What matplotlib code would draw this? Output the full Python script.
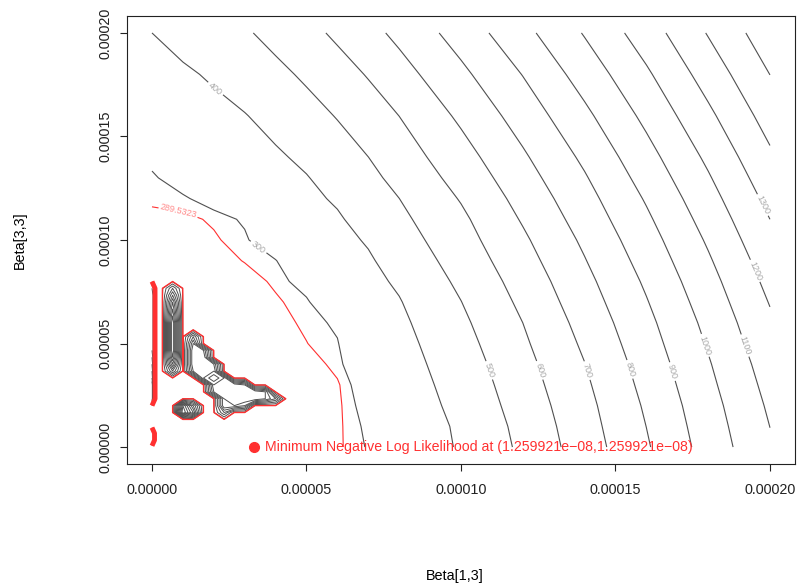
import matplotlib
matplotlib.use("Agg")
import matplotlib.pyplot as plt
import numpy as np
from matplotlib.ticker import FormatStrFormatter

plt.rcParams['font.family'] = ['Liberation Sans', 'DejaVu Sans']

# negative log likelihood surface (beta in 1e-6)
beta13 = [0, 10, 20, 30, 40, 50, 60, 70, 80, 100, 120, 140, 160, 180, 200]
beta33 = [0, 10, 20, 30, 40, 50, 60, 70, 80, 90, 100, 110, 120, 130, 140, 160, 180, 200]
nll = [
    [280, 280, 280, 280, 280, 280, 286.7, 301.7, 336.5, 408.9, 518.4, 650.0, 789.6, 940.0, 1089.0],
    [280, 280, 280, 280, 280, 280, 286.4, 304.2, 339.0, 413.5, 527.6, 660.0, 800.7, 951.0, 1100.8],
    [280, 280, 280, 280, 280, 280, 286.1, 309.6, 345.2, 425.0, 540.8, 670.5, 812.6, 962.6, 1114.5],
    [280, 280, 280, 280, 280, 280, 287.2, 316.1, 352.0, 436.3, 554.5, 683.9, 827.2, 977.1, 1130.0],
    [280, 280, 280, 280, 280, 280.3, 294.9, 323.6, 360.0, 449.5, 568.4, 698.0, 841.6, 991.6, 1146.0],
    [280, 280, 280, 280, 280, 289.1, 298.6, 331.8, 369.3, 464.5, 584.4, 715.6, 858.3, 1008.4, 1165.0],
    [280, 280, 280, 280, 284.0, 292.4, 303.8, 342.3, 380.8, 480.6, 600.0, 733.6, 875.0, 1025.4, 1183.7],
    [280, 280, 280, 280, 287.0, 297.0, 324.6, 359.6, 394.7, 498.4, 619.6, 753.5, 894.3, 1045.4, 1204.9],
    [280, 280, 280, 282.0, 292.5, 309.5, 342.4, 375.3, 413.0, 518.6, 639.2, 773.3, 914.2, 1065.9, 1226.7],
    [280, 280, 282.0, 290.4, 298.9, 327.3, 358.6, 390.0, 434.3, 540.0, 661.7, 795.3, 936.6, 1088.5, 1250.0],
    [281.0, 280, 287.3, 296.9, 319.1, 347.6, 376.1, 407.8, 456.3, 561.1, 683.9, 817.2, 959.3, 1112.0, 1275.0],
    [286.4, 285.5, 291.8, 302.9, 332.2, 361.4, 390.6, 431.6, 478.1, 580.9, 708.6, 841.5, 983.8, 1137.3, 1300.0],
    [291.6, 296.9, 310.2, 334.0, 357.7, 381.5, 409.9, 454.7, 499.6, 606.3, 733.1, 865.5, 1009.2, 1163.3, 1327.5],
    [296.9, 311.9, 332.9, 353.9, 374.8, 395.8, 434.5, 477.6, 524.9, 634.0, 759.6, 891.3, 1037.1, 1190.7, 1355.4],
    [306.3, 326.8, 347.3, 367.8, 387.5, 417.6, 458.6, 499.6, 550.0, 661.2, 786.1, 918.7, 1064.9, 1218.9, 1383.5],
    [337.5, 357.0, 376.6, 396.1, 429.6, 466.7, 504.8, 552.6, 600.6, 717.8, 842.6, 978.2, 1123.9, 1279.0, 1441.9],
    [368.8, 387.4, 410.7, 444.0, 477.3, 514.5, 560.0, 606.6, 661.9, 778.0, 902.8, 1041.8, 1184.9, 1342.4, 1500.8],
    [400.0, 429.8, 459.5, 489.3, 527.7, 571.0, 617.2, 669.3, 723.7, 841.7, 970.5, 1106.9, 1250.8, 1406.2, 1560.0],
]
levels = [300, 400, 500, 600, 700, 800, 900, 1000, 1100, 1200, 1300, 1400, 1500]
conf_level = 289.5323

# spiky cells near beta = 0 (beta in 1e-6), background value elsewhere
spike_bg = 285.0
# thin strip along beta[1,3] = 0
strip_y = [23.33, 26.67, 30, 33.33, 36.67, 40, 43.33, 46.67, 50, 53.33,
           56.67, 60, 63.33, 66.67, 70, 73.33, 76.67, 3.33, 6.67]
strip_z = [1200, 1200, 1200, 1000, 900, 800, 700, 600, 600, 600,
           600, 600, 600, 600, 600, 600, 500, 310, 310]
# narrow spike at beta[1,3] ~ 6.7e-6
needle_y = [36.67, 40, 43.33, 46.67, 50, 53.33, 56.67, 60, 63.33, 66.67, 70, 73.33, 76.67]
needle_z = [700, 1000, 1200, 1300, 1300, 1300, 1300, 1300, 1200, 1100, 1000, 800, 600]
# star shaped plateau and the small blob below it
star_x = [13.33, 13.33, 13.33, 16.67, 13.33, 16.67, 13.33, 16.67, 20, 13.33, 16.67, 20,
          16.67, 20, 23.33, 20, 23.33, 26.67, 30, 20, 23.33, 26.67, 30, 33.33, 36.67,
          23.33, 26.67, 30, 33.33, 36.67, 40, 23.33, 26.67, 30, 23.33,
          10, 10, 13.33, 13.33]
star_y = [53.33, 50, 46.67, 46.67, 43.33, 43.33, 40, 40, 40, 36.67, 36.67, 36.67,
          33.33, 33.33, 33.33, 30, 30, 30, 30, 26.67, 26.67, 26.67, 26.67, 26.67, 26.67,
          23.33, 23.33, 23.33, 23.33, 23.33, 23.33, 20, 20, 20, 16.67,
          20, 16.67, 16.67, 20]
star_z = [700, 900, 1000, 900, 1000, 1000, 1000, 1000, 900, 900, 1000, 1000,
          1000, 1200, 1000, 1000, 1000, 1000, 900, 900, 1000, 1000, 1000, 1000, 900,
          900, 1000, 1000, 1000, 900, 700, 900, 900, 800, 600,
          1300, 1400, 1000, 800]

min_x, min_y = 33.0e-6, 0.0
min_text = "Minimum Negative Log Likelihood at (1.259921e\u221208,1.259921e\u221208)"

# label spots (beta in 1e-6), roughly where R put them
lab_black = [(20.5, 173), (35.5, 98.6), (111, 38), (127.4, 38), (141, 37), (155.7, 38),
             (169.7, 37), (180.8, 50), (193.8, 50), (195.8, 85.5), (197, 116.4)]
lab_red = [(8.5, 113.5)]

s = 1e-6
fig = plt.figure(figsize=(7.97, 5.85), dpi=100)
ax = fig.add_axes([0.1597, 0.2075, 0.8374, 0.7645])

X = np.array(beta13) * s
Y = np.array(beta33) * s
Z = np.array(nll)

line_col = '#505050'
red_col = '#ff3030'

cs = ax.contour(X, Y, Z, levels=levels, colors=line_col, linewidths=0.8)
ax.clabel(cs, fmt='%1.0f', fontsize=6.5, colors='#a8a8a8', inline=True, inline_spacing=3,
          manual=[(a * s, b * s) for a, b in lab_black])
csr = ax.contour(X, Y, Z, levels=[conf_level], colors=red_col, linewidths=0.8)
ax.clabel(csr, fmt='%.4f', fontsize=6.5, colors='#ff8a8a', inline=True, inline_spacing=3,
          manual=[(a * s, b * s) for a, b in lab_red])

# fine grid for the spiky part
gx = np.r_[0, 1, np.arange(1, 17) * 10 / 3]
gy = np.arange(26) * 10 / 3
Zi = np.full((len(gy), len(gx)), spike_bg)
pts_x = [0] * len(strip_y) + [6.67] * len(needle_y) + star_x
pts_y = strip_y + needle_y + star_y
pts_z = strip_z + needle_z + star_z
for xx, yy, zz in zip(pts_x, pts_y, pts_z):
    Zi[np.argmin(abs(gy - yy)), np.argmin(abs(gx - xx))] = zz
ax.contour(gx * s, gy * s, Zi, levels=levels, colors=line_col, linewidths=0.7)
ax.contour(gx * s, gy * s, Zi, levels=[conf_level], colors=red_col, linewidths=1.0)
# the edge strip is drawn heavier, as in the original
ax.contour(gx[:3] * s, gy * s, Zi[:, :3], levels=[conf_level], colors=red_col, linewidths=3.5)

ax.plot(min_x, min_y, 'o', color=red_col, ms=7, clip_on=False)
ax.annotate(min_text, (min_x, min_y), xytext=(8, 0), textcoords='offset points',
            va='center', ha='left', color=red_col, fontsize=10.2)

ax.set_xlim(-8e-6, 2.08e-4)
ax.set_ylim(-8e-6, 2.08e-4)
ticks = [0, 5e-5, 1e-4, 1.5e-4, 2e-4]
ax.set_xticks(ticks)
ax.set_yticks(ticks)
ax.xaxis.set_major_formatter(FormatStrFormatter('%.5f'))
ax.yaxis.set_major_formatter(FormatStrFormatter('%.5f'))
ax.tick_params(direction='out', length=5, width=0.8, colors='#222222', labelsize=10.4)
ax.tick_params(axis='x', pad=9)
ax.tick_params(axis='y', pad=6)
for lab in ax.get_yticklabels():
    lab.set_rotation(90)
    lab.set_va('center')
for sp in ax.spines.values():
    sp.set_color('#222222')
    sp.set_linewidth(0.8)

fig.text(455 / 797, 1 - 576 / 585, 'Beta[1,3]', ha='center', va='center', fontsize=10.4)
fig.text(20 / 797, 1 - 240 / 585, 'Beta[3,3]', ha='center', va='center', rotation=90, fontsize=10.4)

fig.savefig('out.png', dpi=100)
